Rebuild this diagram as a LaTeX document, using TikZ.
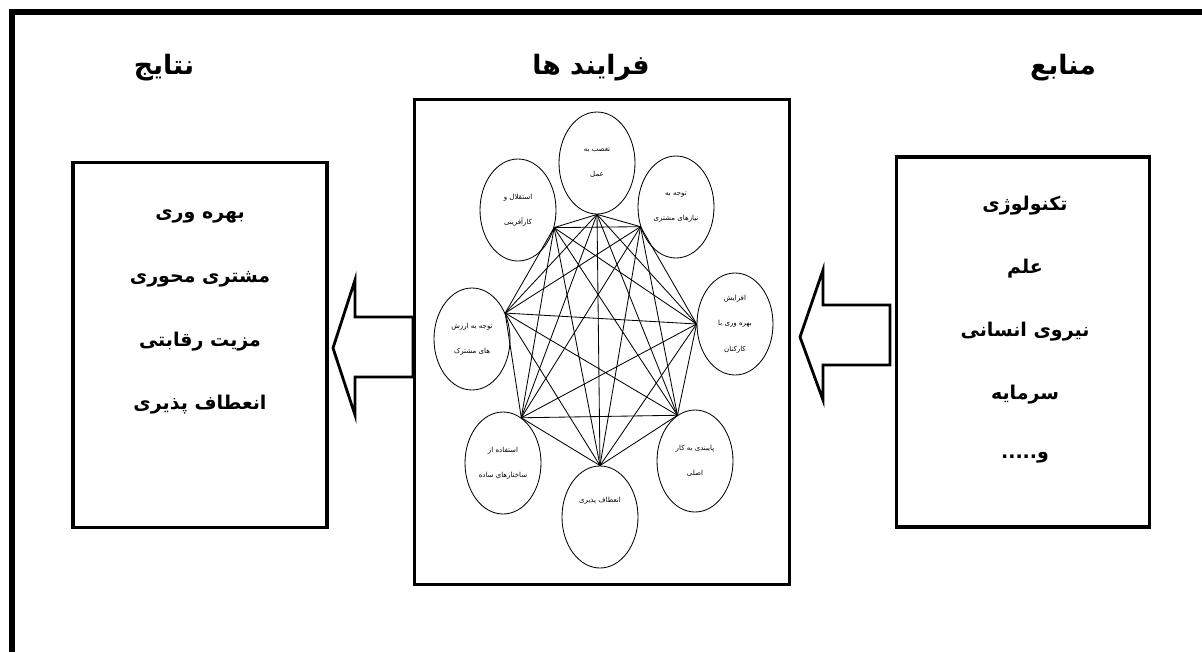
\documentclass[tikz,border=0pt]{standalone}
\usepackage{fontspec}
\usetikzlibrary{shapes.geometric}
\newfontfamily\arabicfont[Script=Arabic]{DejaVu Sans}
\TeXXeTstate=1
\newcommand{\fatext}[1]{\beginR #1\endR}
\begin{document}
\begin{tikzpicture}[x=0.25mm,y=-0.25mm,
  bigbox/.style={draw,line width=2.6pt,inner sep=0pt},
  title/.style={font=\arabicfont\bfseries\fontsize{19}{22}\selectfont},
  item/.style={font=\arabicfont\bfseries\fontsize{13.5}{16}\selectfont},
  proc/.style={draw,ellipse,line width=0.6pt,minimum width=1.9cm,minimum height=2.55cm,inner sep=0pt,align=center,font=\arabicfont\fontsize{5}{6}\selectfont},
  blockarrow/.style={draw,line width=2pt,line join=miter}]
\useasboundingbox (0,0) rectangle (1202,652);
\draw [line width=3.6pt](12,652) -- (12,12) -- (1202,12);
% the three columns
\node [bigbox,minimum width=6.35cm,minimum height=9.125cm] (out) at (200,345) {};
\node [bigbox,minimum width=9.375cm,minimum height=12.125cm] (proc) at (602,342) {};
\node [bigbox,minimum width=6.325cm,minimum height=9.25cm] (res) at (1023,342) {};
\node [title] (tout) at (164,68) {\fatext{نتایج}};
\node [title] (tproc) at (591,68) {\fatext{فرایند ها}};
\node [title] (tres) at (1063,68) {\fatext{منابع}};
\foreach \t [count=\i] in {بهره وری,مشتری محوری,مزیت رقابتی,انعطاف پذیری}
  \node [item] (o\i) at (200,{153+63*\i}) {\fatext{\t}};
\foreach \t [count=\i] in {تکنولوژی,علم,نیروی انسانی,سرمایه}
  \node [item] (r\i) at (1025,{143+63*\i}) {\fatext{\t}};
\node [item] (r5) at (1025,458) {\fatext{و.....}};
% block arrows
\draw [blockarrow](413,317) -- (355,317) -- (355,280) -- (333,348) -- (355,415) -- (355,377) -- (413,377) -- cycle;
\draw [blockarrow](890,305) -- (823,305) -- (823,270) -- (800,337) -- (823,400) -- (823,365) -- (890,365) -- cycle;
% processes
\node [proc] (p1) at (597,163) {\fatext{تعصب به}\\[12pt]\fatext{عمل}};
\node [proc] (p2) at (676,207) {\fatext{توجه به}\\[12pt]\fatext{نیازهای مشتری}};
\node [proc] (p3) at (735,324) {\fatext{افزایش}\\[12pt]\fatext{بهره وری با}\\[12pt]\fatext{کارکنان}};
\node [proc] (p4) at (695,461) {\fatext{پایبندی به کار}\\[12pt]\fatext{اصلی}};
\node [proc] (p5) at (600,517) {\fatext{انعطاف پذیری}\\[18pt]{}};
\node [proc] (p6) at (503,463) {\fatext{استفاده از}\\[12pt]\fatext{ساختارهای ساده}};
\node [proc] (p7) at (472,339) {\fatext{توجه به ارزش}\\[12pt]\fatext{های مشترک}};
\node [proc] (p8) at (518,210) {\fatext{استقلال و}\\[12pt]\fatext{کارآفرینی}};
\coordinate (v1) at (p1.south);
\coordinate (v2) at (p2.209);
\coordinate (v3) at (p3.west);
\coordinate (v4) at (p4.111);
\coordinate (v5) at (p5.north);
\coordinate (v6) at (p6.68);
\coordinate (v7) at (p7.38);
\coordinate (v8) at (p8.-26);
\foreach \i in {1,...,7}{
  \pgfmathtruncatemacro\j{\i+1}
  \foreach \k in {\j,...,8} \draw [line width=0.6pt](v\i) -- (v\k);
}
\end{tikzpicture}
\end{document}
